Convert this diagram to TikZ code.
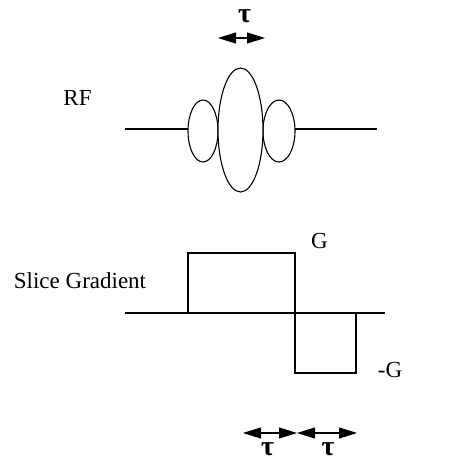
\documentclass[tikz,border=0pt]{standalone}
\usepackage{fontspec}
\setmainfont{Liberation Serif}
\usetikzlibrary{arrows.meta}
\begin{document}
\begin{tikzpicture}[x=1pt,y=-1pt,
  lbl/.style={anchor=base,inner sep=0pt,font=\fontsize{23}{25}\selectfont},
  taul/.style={anchor=base,inner sep=0pt,font=\fontsize{28}{30}\selectfont\bfseries},
  wave/.style={line width=1.1pt},
  dur/.style={line width=1.1pt,{Triangle[length=18pt,width=11pt]}-{Triangle[length=18pt,width=11pt]}}]
\useasboundingbox (0,0) rectangle (450,460);
% RF
\node[lbl] (rf) at (77.5,105) {RF};
\coordinate (rfL) at (125,129);
\coordinate (rfR) at (377,129);
\draw[wave] (rfL) -- (188,129);
\draw[wave] (295,129) -- (rfR);
\draw[wave, fill=white] (203,131) ellipse [x radius=15, y radius=31];
\draw[wave, fill=white] (279,131) ellipse [x radius=16, y radius=31];
\draw[wave, fill=white] (240.5,130) ellipse [x radius=22.5, y radius=62];
% top tau
\node[taul] (t0) at (244.5,23) {τ};
\coordinate (a0) at (218,38);
\coordinate (b0) at (265,38);
\draw[dur] (a0) -- (b0);
% slice gradient
\node[lbl] (sg) at (80,288) {Slice Gradient};
\coordinate (gL) at (125,313);
\coordinate (gR) at (385,313);
\draw[wave] (gL) -- (gR);
\draw[wave] (188,313) -- (188,253) -- (295,253) -- (295,313);
\draw[line width=1.8pt] (188,313) -- (356,313);
\draw[wave] (295,313) -- (295,373) -- (356,373) -- (356,313);
\node[lbl] (g) at (319.5,248) {G};
\node[lbl] (mg) at (390,377) {-G};
% bottom taus
\coordinate (c1) at (243,433);
\coordinate (c2) at (297,433);
\coordinate (c3) at (357,433);
\draw[dur] (c1) -- (c2);
\draw[dur] (c2) -- (c3);
\node[taul] (t1) at (267.5,455) {τ};
\node[taul] (t2) at (328,455) {τ};
\end{tikzpicture}
\end{document}
